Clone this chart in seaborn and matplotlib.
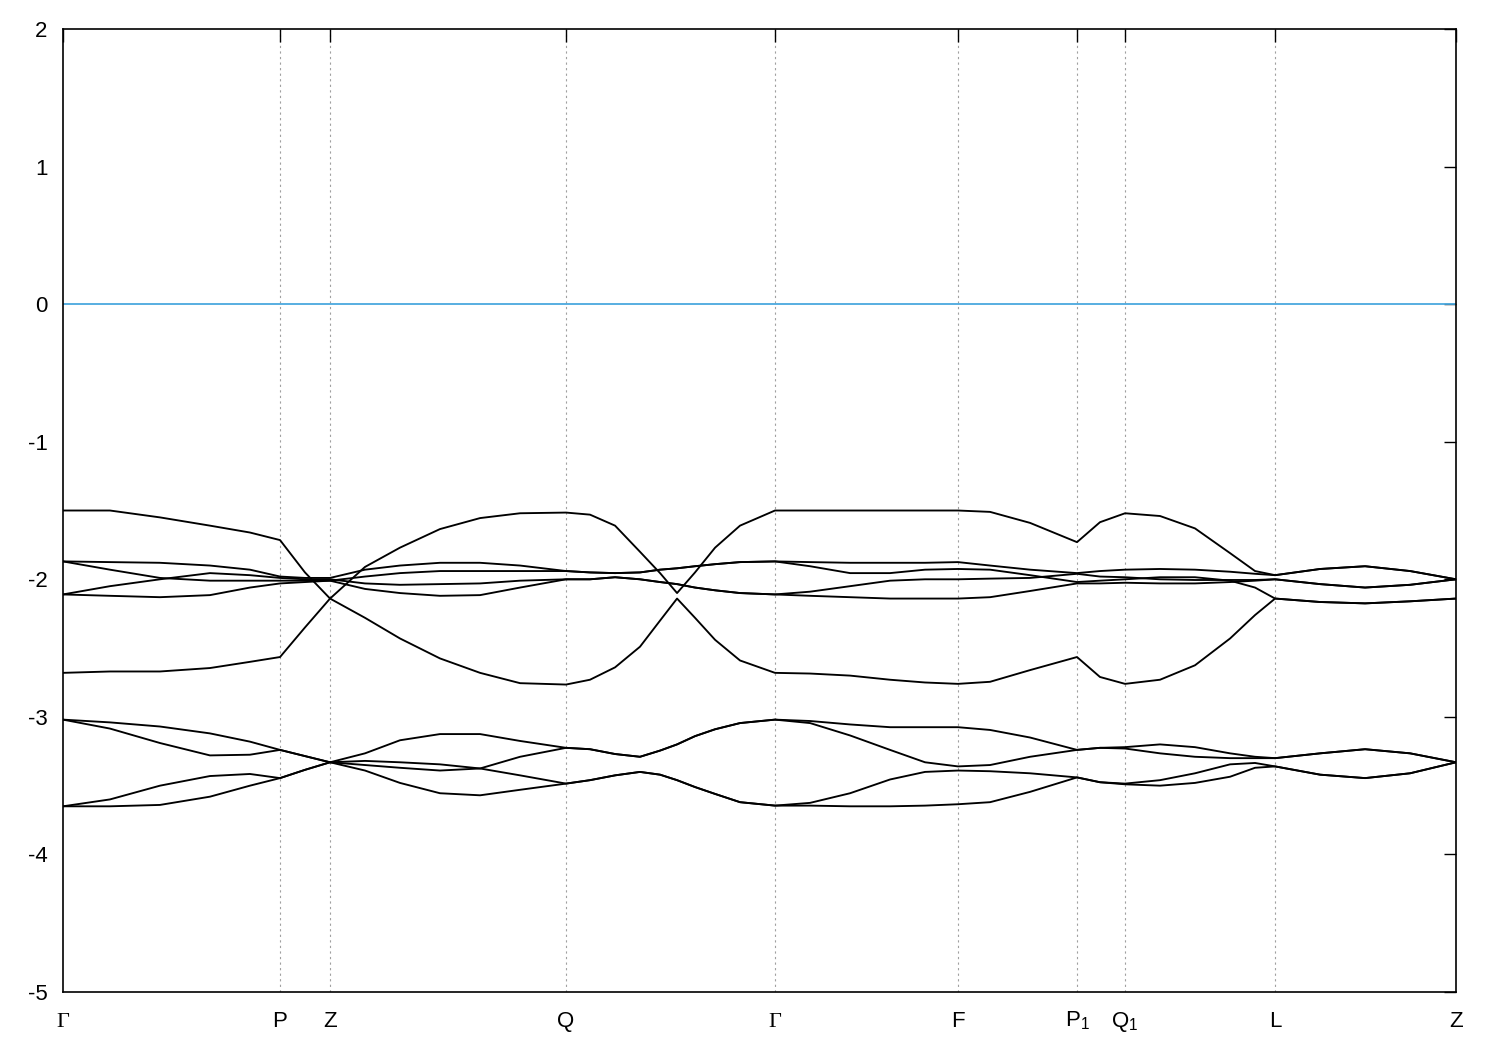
import matplotlib
matplotlib.use('Agg')
import pandas as pd
import matplotlib.pyplot as plt
import seaborn as sns

# k-path sample positions (fraction of total path length)
k = [0.0, 0.0337, 0.0696, 0.1055, 0.1342, 0.1558, 0.1737, 0.1917,
     0.2168, 0.2419, 0.2706, 0.2994, 0.3281, 0.3611,
     0.3783, 0.3963, 0.4142, 0.4286, 0.4408, 0.4537, 0.4681, 0.4860, 0.5111,
     0.5363, 0.5650, 0.5937, 0.6188, 0.6425, 0.6655, 0.6942, 0.7279,
     0.7444, 0.7624, 0.7875, 0.8126, 0.8378, 0.8557, 0.8701,
     0.9024, 0.9347, 0.9670, 1.0]

# high symmetry points
sym_k = [0.0, 0.1558, 0.1917, 0.3611, 0.5111, 0.6425, 0.7279, 0.7624, 0.8701, 1.0]
sym_labels = ['Γ', 'P', 'Z', 'Q', 'Γ', 'F', 'P$_1$', 'Q$_1$', 'L', 'Z']

# bands (eV), upper group
band_1 = [-1.50, -1.50, -1.55, -1.61, -1.66, -1.715, -1.95, -2.14,
          -2.28, -2.43, -2.575, -2.68, -2.755, -2.765,
          -2.73, -2.64, -2.49, -2.30, -2.14, -2.28, -2.44, -2.59, -2.68,
          -2.685, -2.70, -2.73, -2.75, -2.76, -2.745, -2.66, -2.565,
          -2.71, -2.76, -2.73, -2.625, -2.43, -2.26, -2.14,
          -2.165, -2.175, -2.16, -2.14]
band_2 = [-2.68, -2.67, -2.67, -2.645, -2.60, -2.565, -2.35, -2.14,
          -1.91, -1.77, -1.635, -1.555, -1.52, -1.515,
          -1.53, -1.61, -1.80, -1.955, -2.10, -1.95, -1.77, -1.61, -1.50,
          -1.50, -1.50, -1.50, -1.50, -1.50, -1.51, -1.59, -1.73,
          -1.585, -1.52, -1.54, -1.63, -1.81, -1.94, -1.97,
          -1.925, -1.905, -1.94, -2.00]
band_3 = [-1.87, -1.875, -1.88, -1.90, -1.93, -1.98, -1.99, -1.99,
          -1.93, -1.90, -1.88, -1.88, -1.90, -1.94,
          -1.95, -1.955, -1.95, -1.93, -1.92, -1.905, -1.89, -1.875, -1.87,
          -1.875, -1.88, -1.88, -1.88, -1.875, -1.90, -1.93, -1.955,
          -1.94, -1.93, -1.925, -1.93, -1.945, -1.96, -1.97,
          -1.925, -1.905, -1.94, -2.00]
band_4 = [-1.87, -1.93, -1.99, -2.01, -2.01, -2.01, -2.01, -2.01,
          -1.98, -1.955, -1.94, -1.94, -1.94, -1.94,
          -1.95, -1.955, -1.95, -1.93, -1.92, -1.905, -1.89, -1.875, -1.87,
          -1.905, -1.955, -1.955, -1.93, -1.925, -1.93, -1.97, -2.02,
          -2.01, -2.00, -1.985, -1.985, -2.01, -2.06, -2.14,
          -2.165, -2.175, -2.16, -2.14]
band_5 = [-2.11, -2.05, -2.00, -1.955, -1.97, -1.99, -2.00, -2.00,
          -2.03, -2.04, -2.035, -2.03, -2.01, -2.00,
          -2.00, -1.985, -2.00, -2.02, -2.035, -2.06, -2.08, -2.10, -2.11,
          -2.09, -2.05, -2.01, -2.00, -2.00, -1.995, -1.99, -1.96,
          -1.98, -1.985, -2.00, -2.005, -2.005, -2.005, -2.00,
          -2.035, -2.06, -2.04, -2.00]
band_6 = [-2.11, -2.12, -2.13, -2.115, -2.06, -2.03, -2.02, -2.01,
          -2.07, -2.10, -2.12, -2.115, -2.06, -2.00,
          -2.00, -1.985, -2.00, -2.02, -2.035, -2.06, -2.08, -2.10, -2.11,
          -2.12, -2.13, -2.14, -2.14, -2.14, -2.13, -2.085, -2.03,
          -2.03, -2.025, -2.03, -2.03, -2.02, -2.01, -2.00,
          -2.035, -2.06, -2.04, -2.00]

# lower group
band_7 = [-3.02, -3.04, -3.07, -3.12, -3.18, -3.24, -3.285, -3.33,
          -3.265, -3.17, -3.125, -3.125, -3.175, -3.225,
          -3.235, -3.27, -3.29, -3.245, -3.20, -3.14, -3.09, -3.045, -3.02,
          -3.03, -3.055, -3.075, -3.075, -3.075, -3.095, -3.15, -3.24,
          -3.225, -3.22, -3.20, -3.22, -3.265, -3.29, -3.30,
          -3.265, -3.235, -3.265, -3.33]
band_8 = [-3.02, -3.085, -3.19, -3.28, -3.275, -3.24, -3.285, -3.33,
          -3.35, -3.37, -3.39, -3.375, -3.29, -3.225,
          -3.235, -3.27, -3.29, -3.245, -3.20, -3.14, -3.09, -3.045, -3.02,
          -3.045, -3.135, -3.24, -3.33, -3.36, -3.35, -3.29, -3.24,
          -3.225, -3.23, -3.265, -3.29, -3.30, -3.30, -3.30,
          -3.265, -3.235, -3.265, -3.33]
band_9 = [-3.65, -3.60, -3.50, -3.43, -3.415, -3.445, -3.385, -3.33,
          -3.32, -3.33, -3.345, -3.375, -3.425, -3.485,
          -3.46, -3.425, -3.40, -3.42, -3.46, -3.51, -3.56, -3.62, -3.645,
          -3.625, -3.555, -3.455, -3.40, -3.39, -3.395, -3.41, -3.44,
          -3.475, -3.49, -3.50, -3.48, -3.435, -3.37, -3.36,
          -3.42, -3.445, -3.41, -3.33]
band_10 = [-3.65, -3.65, -3.64, -3.58, -3.50, -3.445, -3.385, -3.33,
           -3.39, -3.48, -3.555, -3.57, -3.53, -3.485,
           -3.46, -3.425, -3.40, -3.42, -3.46, -3.51, -3.56, -3.62, -3.645,
           -3.645, -3.65, -3.65, -3.645, -3.635, -3.62, -3.545, -3.44,
           -3.475, -3.485, -3.46, -3.41, -3.345, -3.335, -3.36,
           -3.42, -3.445, -3.41, -3.33]

bands = [band_1, band_2, band_3, band_4, band_5, band_6,
         band_7, band_8, band_9, band_10]
rows = []
for i, b in enumerate(bands):
    for kk, e in zip(k, b):
        rows.append({'k': kk, 'E': e, 'band': i})
df = pd.DataFrame(rows)

sns.set_style('white')
plt.rcParams['font.family'] = ['Liberation Sans', 'DejaVu Sans']
plt.rcParams['mathtext.fontset'] = 'custom'
plt.rcParams['mathtext.rm'] = 'Liberation Sans'
plt.rcParams['mathtext.it'] = 'Liberation Sans'
plt.rcParams['axes.unicode_minus'] = False

fig = plt.figure(figsize=(15, 10.5), dpi=100)
ax = fig.add_axes([0.042, 0.0552, 0.9287, 0.9172])

# vertical lines at high symmetry points
for x in sym_k[1:-1]:
    ax.axvline(x, color='#a0a0a0', lw=0.8, ls=(0, (2, 3)), zorder=0)

ax.axhline(0, color='#4aa8de', lw=1.3, zorder=1)

sns.lineplot(data=df, x='k', y='E', units='band', estimator=None,
             color='black', lw=1.35, sort=False, ax=ax, zorder=2)

ax.set_xlim(0, 1)
ax.set_ylim(-5, 2)
ax.set_xticks(sym_k)
ax.set_xticklabels(sym_labels)
for lbl in ax.get_xticklabels():
    lbl.set_verticalalignment('baseline')
    if lbl.get_text() == 'Γ':
        lbl.set_fontfamily('Liberation Serif')
ax.set_yticks(range(-5, 3))
ax.tick_params(axis='both', direction='in', length=9, width=1,
               labelsize=16, top=True, right=True, colors='black')
ax.tick_params(axis='x', pad=25)
ax.tick_params(axis='y', pad=11)
ax.set_xlabel('')
ax.set_ylabel('')
for s in ax.spines.values():
    s.set_color('black')
    s.set_linewidth(1.2)

fig.savefig('out.png', dpi=100)
